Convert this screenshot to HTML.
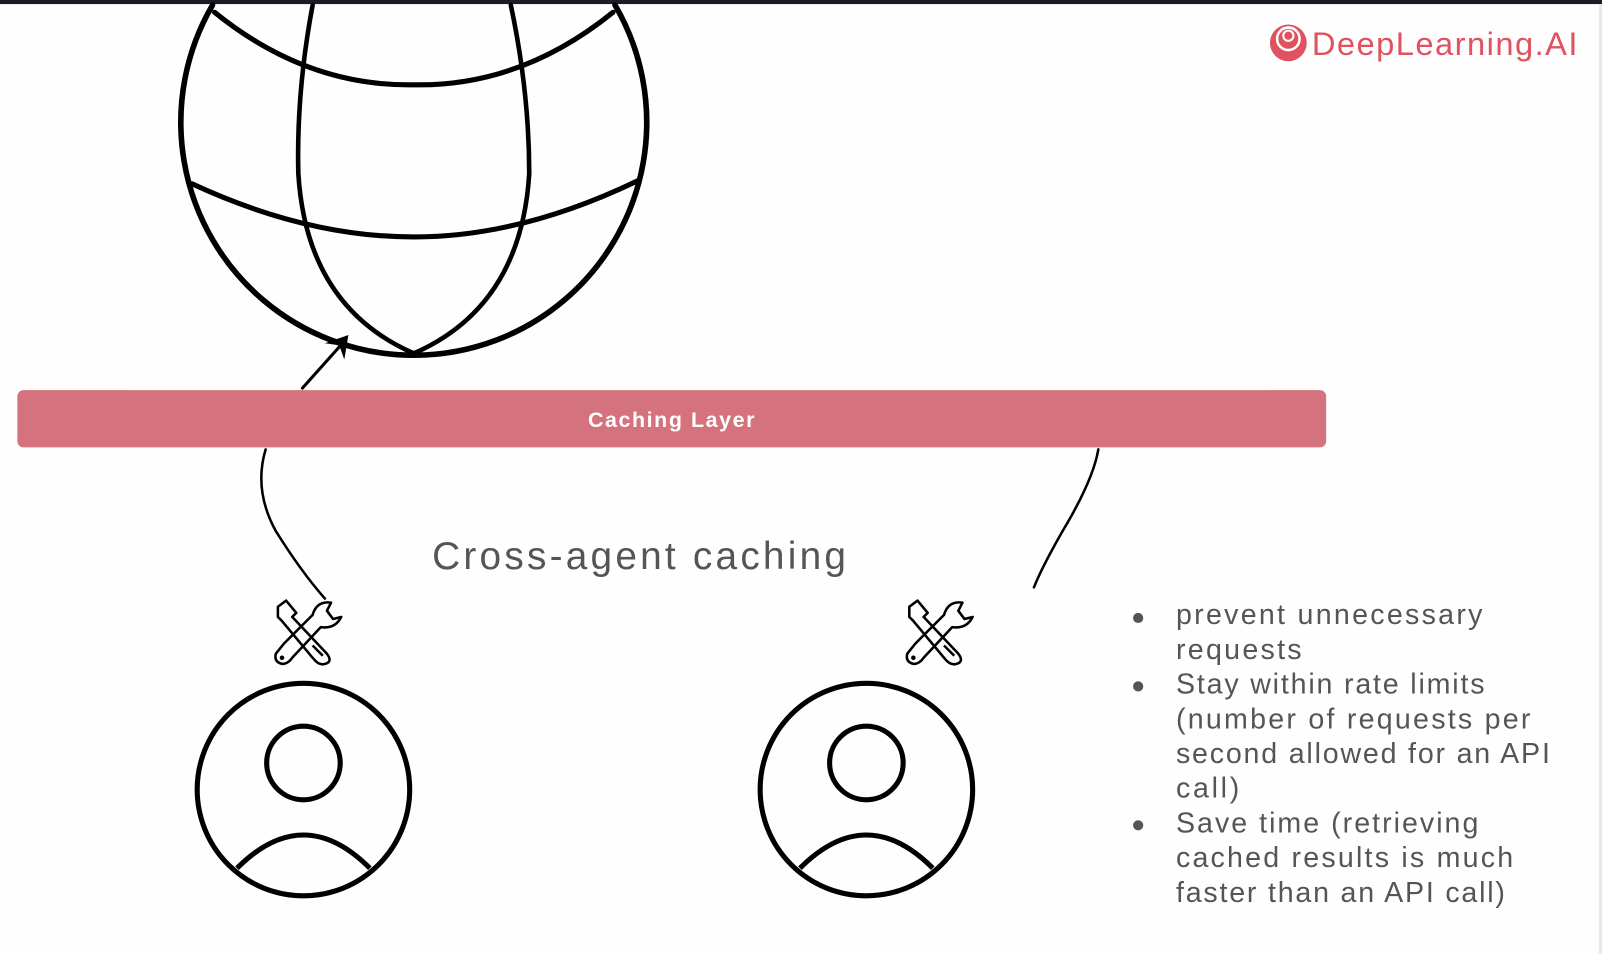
<!DOCTYPE html>
<html><head><meta charset="utf-8"><style>
html,body{margin:0;padding:0;background:#fff;width:1602px;height:954px;overflow:hidden}
svg{display:block}
text{font-family:"Liberation Sans",sans-serif}
</style></head><body>
<svg width="1602" height="954" viewBox="0 0 1568 934" preserveAspectRatio="none">
<rect x="0" y="0" width="1568" height="934" fill="#fefefe"/>
<rect x="0" y="0" width="1568" height="4" fill="#1a1d24"/>
<rect x="1565" y="4" width="3" height="930" fill="#e8e8e8"/>
<g fill="none" stroke="#000" stroke-linecap="round">
 <path d="M208 5 A228 228 0 1 0 602 5" stroke-width="5.5"/>
 <path d="M210 12 Q300 85 405 83 Q510 85 600 12" stroke-width="5"/>
 <path d="M188 180 Q300 232 405 232 Q510 232 624 177" stroke-width="5"/>
 <path d="M306 5 Q290 90 292 170 Q300 300 405 346" stroke-width="4.5"/>
 <path d="M500 5 Q518 90 518 170 Q510 300 405 346" stroke-width="4.5"/>
 <path d="M296 380 L338 333" stroke-width="3"/>
 <path d="M260 440 Q248 480 270 520 Q295 560 318 586" stroke-width="2.5"/>
 <path d="M1075 440 Q1070 470 1040 520 Q1020 555 1012 575" stroke-width="2.5"/>
</g>
<path d="M341 328 L337 352 L332 338 L318 336 Z" fill="#000"/>
<rect x="17" y="382" width="1281" height="56" rx="6" fill="#d4737d"/>
<text x="657" y="418" text-anchor="middle" font-size="21" font-weight="bold" fill="#fff" textLength="163">Caching Layer</text>
<text x="423" y="557" font-size="38" fill="#555" textLength="405">Cross-agent caching</text>
<g id="tools" fill="none" stroke="#000" stroke-width="2.5" stroke-linejoin="round">
 <path d="M272 594 L280 588 L290 600 L286 604 L320 640 Q326 648 318 650 Q312 652 306 644 L276 608 L272 604 Z"/>
 <path d="M270 640 Q268 648 276 650 Q282 650 286 644 L314 614 Q328 616 334 604 L326 606 L320 598 L324 590 Q310 588 306 602 L278 630 Z"/>
 <circle cx="276" cy="644" r="1" fill="#000"/>
 <path d="M306 632 L316 642"/>
</g>
<use href="#tools" x="618"/>
<g fill="none" stroke="#000" stroke-width="5">
 <circle cx="297" cy="773" r="104"/>
 <circle cx="297" cy="747" r="36"/>
 <path d="M232 850 Q297 785 362 850"/>
 <circle cx="848" cy="773" r="104"/>
 <circle cx="848" cy="747" r="36"/>
 <path d="M783 850 Q848 785 913 850"/>
</g>
<g fill="#555" font-size="28">
 <circle cx="1114" cy="605" r="5"/><circle cx="1114" cy="672" r="5"/><circle cx="1114" cy="808" r="5"/>
 <text x="1151" y="611" textLength="300">prevent unnecessary</text>
 <text x="1151" y="645" textLength="123">requests</text>
 <text x="1151" y="679" textLength="302">Stay within rate limits</text>
 <text x="1151" y="713" textLength="347">(number of requests per</text>
 <text x="1151" y="747" textLength="366">second allowed for an API</text>
 <text x="1151" y="781" textLength="62">call)</text>
 <text x="1151" y="815" textLength="296">Save time (retrieving</text>
 <text x="1151" y="849" textLength="330">cached results is much</text>
 <text x="1151" y="883" textLength="322">faster than an API call)</text>
</g>
<g>
 <circle cx="1261" cy="42" r="18" fill="#e0525f"/>
 <circle cx="1261" cy="38" r="11" fill="none" stroke="#fff" stroke-width="2.5"/>
 <circle cx="1261" cy="35" r="5" fill="none" stroke="#fff" stroke-width="2"/>
 <text x="1284" y="54" font-size="32" fill="#e0525f" textLength="260">DeepLearning.AI</text>
</g>
</svg>
</body></html>
